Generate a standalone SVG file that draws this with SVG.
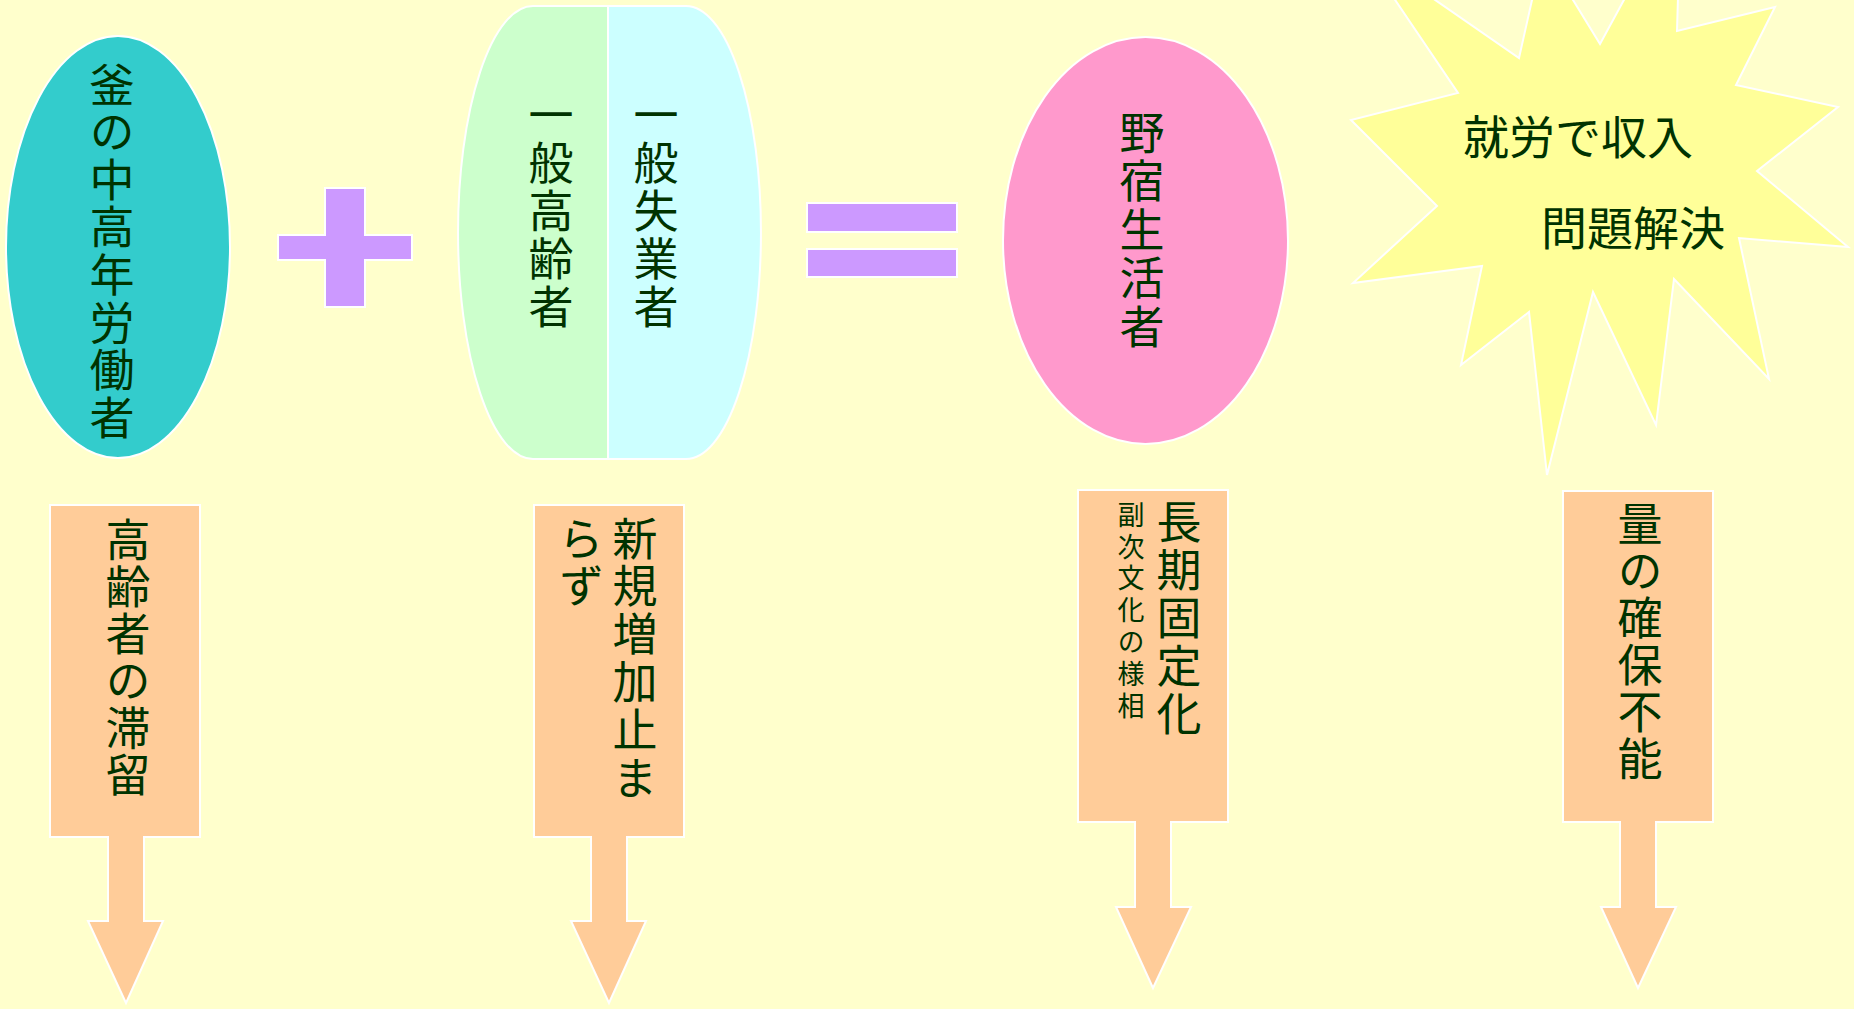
<svg xmlns="http://www.w3.org/2000/svg" width="1854" height="1009" viewBox="0 0 1854 1009">
<style>
.s{stroke:#FFFFFF;stroke-width:2;stroke-linejoin:miter}
.t{font-family:"Noto Sans CJK JP","Noto Sans CJK SC",sans-serif;fill:#003300;text-anchor:middle}
.v{font-family:"Noto Sans CJK JP","Noto Sans CJK SC",sans-serif;fill:#003300;writing-mode:vertical-rl;text-anchor:start}
.f45{font-size:45px}
.f27{font-size:27px}
.f46{font-size:46px}
</style>
<rect x="0" y="0" width="1854" height="1009" fill="#FFFFCC"/>

<g id="node-kama">
<ellipse class="s" cx="118" cy="247" rx="112" ry="211" fill="#33CCCC"/>
<text class="v f45" x="112" y="62" letter-spacing="2.6">釜の中高年労働者</text>
</g>

<g id="op-plus">
<path class="s" d="M325,188 H365 V235 H412 V260 H365 V307 H325 V260 H278 V235 H325 Z" fill="#CC99FF"/>
</g>

<g id="node-ippan">
<path class="s" d="M608,6 H533 A75,226.5 0 0 0 533,459 H608 Z" fill="#CCFFCC"/>
<path class="s" d="M608,6 H686 A75,226.5 0 0 1 686,459 H608 Z" fill="#CCFFFF"/>
<text class="v f45" x="551" y="92" letter-spacing="3">一般高齢者</text>
<text class="v f45" x="656" y="92" letter-spacing="3">一般失業者</text>
</g>

<g id="op-equals">
<rect class="s" x="807" y="203" width="150" height="29" fill="#CC99FF"/>
<rect class="s" x="807" y="249" width="150" height="28" fill="#CC99FF"/>
</g>

<g id="node-nojuku">
<ellipse class="s" cx="1145.5" cy="240.5" rx="142.5" ry="203.5" fill="#FF99CC"/>
<text class="v f45" x="1142" y="110" letter-spacing="3.5">野宿生活者</text>
</g>

<g id="node-star">
<polygon class="s" fill="#FFFF99" points="1360,-52 1458,93 1351,120 1437,206 1353,283 1482,266 1461,365 1529,312 1547,475 1593,292 1656,425 1674,279 1769,379 1739,238 1848,247 1757,171 1838,107 1736,85 1775,7 1677,31 1681,-105 1600,44 1543,-49 1519,58"/>
<text class="t f46" x="1578" y="154">就労で収入</text>
<text class="t f46" x="1633" y="245">問題解決</text>
</g>

<g id="node-box1">
<polygon class="s" fill="#FFCC99" points="50,505 200,505 200,837 144,837 144,921 163,921 126,1003 88,921 108,921 108,837 50,837"/>
<text class="v f45" x="128" y="517.5" letter-spacing="2">高齢者の滞留</text>
</g>

<g id="node-box2">
<polygon class="s" fill="#FFCC99" points="534,505 684,505 684,837 627,837 627,921 646,921 609,1003 571,921 591,921 591,837 534,837"/>
<text class="v f45" x="635" y="516" letter-spacing="2.8">新規増加止ま</text>
<text class="v f45" x="581" y="516" letter-spacing="2.8">らず</text>
</g>

<g id="node-box3">
<polygon class="s" fill="#FFCC99" points="1078,490 1228,490 1228,822 1171,822 1171,907 1191,907 1153,988 1116,907 1135,907 1135,822 1078,822"/>
<text class="v f45" x="1179" y="499.6" letter-spacing="3">長期固定化</text>
<text class="v f27" x="1131" y="501" letter-spacing="4.8">副次文化の様相</text>
</g>

<g id="node-box4">
<polygon class="s" fill="#FFCC99" points="1563,491 1713,491 1713,822 1656,822 1656,907 1676,907 1638,988 1601,907 1620,907 1620,822 1563,822"/>
<text class="v f45" x="1640" y="501" letter-spacing="2">量の確保不能</text>
</g>

<g id="connectors"></g>
</svg>
